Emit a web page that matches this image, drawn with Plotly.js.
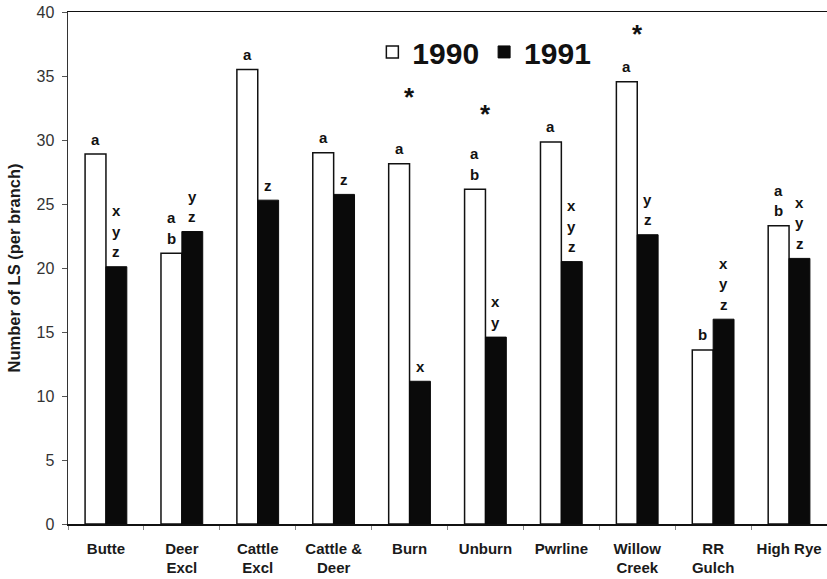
<!DOCTYPE html>
<html>
<head>
<meta charset="utf-8">
<script src="https://cdn.plot.ly/plotly-3.0.1.min.js"></script>
<style>html,body{margin:0;padding:0;background:#fff;}#chart{width:827px;height:579px;}</style>
</head>
<body>
<div id="chart"></div>
<script>
// ---- data ----
var categories = ["Butte", "Deer<br>Excl", "Cattle<br>Excl", "Cattle &amp;<br>Deer", "Burn", "Unburn", "Pwrline", "Willow<br>Creek", "RR<br>Gulch", "High Rye"];
var values1990 = [28.9, 21.15, 35.5, 29.0, 28.15, 26.15, 29.85, 34.55, 13.6, 23.3];
var values1991 = [20.1, 22.85, 25.3, 25.75, 11.15, 14.6, 20.5, 22.6, 16.0, 20.75];
var letters1990 = ["a", "ab", "a", "a", "a", "ab", "a", "a", "b", "ab"];
var letters1991 = ["xyz", "yz", "z", "z", "x", "xy", "xyz", "yz", "xyz", "xyz"];
var starHeights = [null, null, null, null, 33.6, 32.3, null, 38.5, null, null];
var yTickVals = [0, 5, 10, 15, 20, 25, 30, 35, 40];

var FONT = "Arial, 'Liberation Sans', sans-serif";

var trace1990 = {
  type: "bar", name: "1990", x: categories, y: values1990,
  marker: {color: "#ffffff", line: {color: "#111111", width: 1.5}},
  hoverinfo: "none"
};
var trace1991 = {
  type: "bar", name: "1991", x: categories, y: values1991,
  marker: {color: "#0a0a0a", line: {color: "#0a0a0a", width: 1}},
  hoverinfo: "none"
};

var annotations = [];
function addLetters(letters, vals, xshift) {
  for (var i = 0; i < categories.length; i++) {
    var s = letters[i];
    var n = s.length;
    for (var k = 0; k < n; k++) {
      annotations.push({
        x: categories[i], y: vals[i], xref: "x", yref: "y",
        text: s[k], showarrow: false,
        xanchor: "center", yanchor: "middle",
        xshift: xshift, yshift: 15 + 20.5 * (n - 1 - k),
        font: {family: FONT, size: 15, color: "#111111", weight: "bold"}
      });
    }
  }
}
addLetters(letters1990, values1990, -10.5);
addLetters(letters1991, values1991, 10.5);
for (var i = 0; i < categories.length; i++) {
  if (starHeights[i] !== null) {
    annotations.push({
      x: categories[i], y: starHeights[i], xref: "x", yref: "y",
      text: "*", showarrow: false, xanchor: "center", yanchor: "middle",
      yshift: -3,
      font: {family: FONT, size: 26, color: "#111111", weight: "bold"}
    });
  }
}

var layout = {
  width: 827, height: 579,
  margin: {l: 68, r: 0, t: 12, b: 55},
  paper_bgcolor: "#ffffff", plot_bgcolor: "#ffffff",
  barmode: "group", bargap: 0.45, bargroupgap: 0,
  showlegend: true,
  legend: {
    orientation: "h", x: 0.401, y: 0.922, xanchor: "left", yanchor: "middle",
    font: {family: FONT, size: 30, color: "#111111", weight: "bold"},
    bgcolor: "rgba(0,0,0,0)", itemwidth: 30, tracegroupgap: 0
  },
  xaxis: {
    type: "category", tickson: "boundaries", ticks: "outside", ticklen: 4,
    tickcolor: "#888888", showline: true, linecolor: "#111111", linewidth: 1.5,
    mirror: true, showgrid: false, zeroline: false, ticklabelstandoff: 10,
    tickangle: 0,
    tickfont: {family: FONT, size: 15, color: "#1a1a1a", weight: "bold"},
    automargin: false
  },
  yaxis: {
    range: [0, 40], tickvals: yTickVals, ticks: "outside", ticklen: 5,
    tickcolor: "#555555", showline: true, linecolor: "#333333", linewidth: 1.5,
    showgrid: false, zeroline: false, ticklabelstandoff: 4,
    tickfont: {family: FONT, size: 16, color: "#333333"},
    title: {text: "Number of LS (per branch)", standoff: 11,
            font: {family: FONT, size: 16.5, color: "#1a1a1a", weight: "bold"}},
    automargin: false
  },
  annotations: annotations
};

Plotly.newPlot("chart", [trace1990, trace1991], layout, {staticPlot: true, displayModeBar: false});
</script>
</body>
</html>
